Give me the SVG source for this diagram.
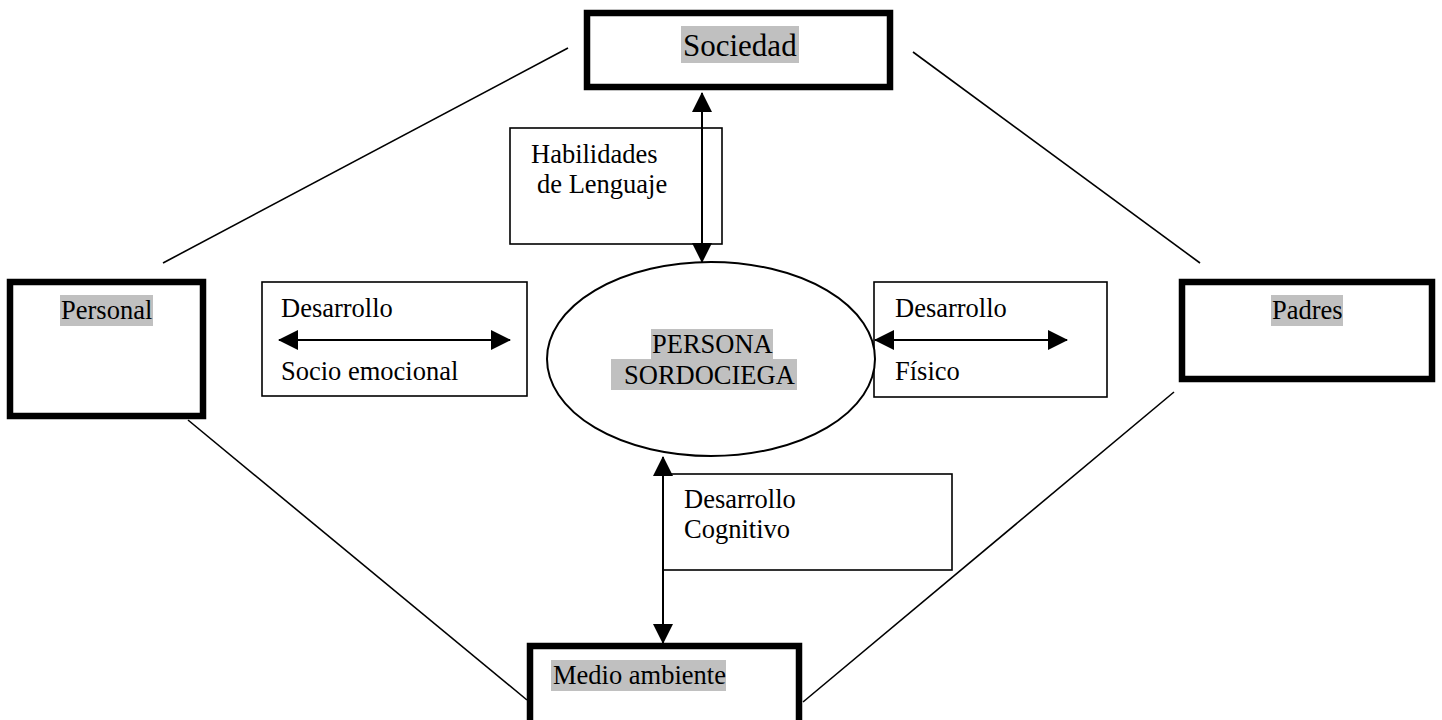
<svg xmlns="http://www.w3.org/2000/svg" width="1442" height="720" viewBox="0 0 1442 720" font-family="'Liberation Serif', 'Times New Roman', 'DejaVu Serif', serif">
<defs>
<style>
text{font-family:"Liberation Serif","Times New Roman","DejaVu Serif",serif}
.t{font-size:26.5px;fill:#000}
.big{font-size:31px}
.hl{fill:#c0c0c0}
.thick{fill:#fff;stroke:#000;stroke-width:6.5}
.thin{fill:#fff;stroke:#000;stroke-width:1.6}
.ln{stroke:#000;stroke-width:1.6;fill:none}
.ar{stroke:#000;stroke-width:2;fill:none;marker-start:url(#ah);marker-end:url(#ah)}
</style>
<marker id="ah" markerUnits="userSpaceOnUse" markerWidth="20" markerHeight="20" refX="19" refY="10" orient="auto-start-reverse" viewBox="0 0 20 20">
<path d="M0,0 L20,10 L0,20 z" fill="#000"/>
</marker>
</defs>
<rect width="1442" height="720" fill="#fff"/>

<g id="connectors">
<line class="ln" x1="163" y1="263" x2="568" y2="48"/>
<line class="ln" x1="913" y1="52" x2="1200" y2="263"/>
<line class="ln" x1="188" y1="420" x2="527" y2="700"/>
<line class="ln" x1="803" y1="702" x2="1174" y2="392"/>
</g>

<g id="node-habilidades">
<rect class="thin" x="510" y="128" width="212" height="116"/>
<text class="t" x="531" y="163">Habilidades</text>
<text class="t" x="537" y="193">de Lenguaje</text>
</g>

<g id="node-cognitivo">
<rect class="thin" x="663" y="474" width="289" height="96"/>
<text class="t" x="684" y="508">Desarrollo</text>
<text class="t" x="684" y="538">Cognitivo</text>
</g>

<g id="node-socioemocional">
<rect class="thin" x="262" y="282" width="265" height="114"/>
<text class="t" x="281" y="317">Desarrollo</text>
<text class="t" x="281" y="380">Socio emocional</text>
</g>

<g id="node-fisico">
<rect class="thin" x="874" y="282" width="233" height="115"/>
<text class="t" x="895" y="317">Desarrollo</text>
<text class="t" x="895" y="380">Físico</text>
</g>

<g id="node-persona">
<ellipse cx="711" cy="359" rx="164" ry="97" fill="#fff" stroke="#000" stroke-width="2"/>
<rect class="hl" x="651" y="329" width="122" height="30"/>
<rect class="hl" x="611" y="359" width="186" height="31"/>
<text class="t" x="652" y="353">PERSONA</text>
<text class="t" x="624" y="384">SORDOCIEGA</text>
</g>

<g id="node-sociedad">
<rect class="thick" x="587" y="13" width="303" height="74"/>
<rect class="hl" x="681" y="26" width="118" height="37"/>
<text class="t big" x="683" y="56">Sociedad</text>
</g>

<g id="node-personal">
<rect class="thick" x="10" y="282" width="193" height="134"/>
<rect class="hl" x="60" y="295" width="93" height="31"/>
<text class="t" x="61" y="319">Personal</text>
</g>

<g id="node-padres">
<rect class="thick" x="1182" y="282" width="250" height="97"/>
<rect class="hl" x="1271" y="295" width="72" height="31"/>
<text class="t" x="1272" y="319">Padres</text>
</g>

<g id="node-medio">
<rect class="thick" x="530" y="646" width="269" height="90"/>
<rect class="hl" x="551" y="660" width="175" height="31"/>
<text class="t" x="553" y="684">Medio ambiente</text>
</g>

<g id="arrows">
<line class="ar" x1="702" y1="93" x2="702" y2="262"/>
<line class="ar" x1="663" y1="457" x2="663" y2="643"/>
<line class="ar" x1="279" y1="340" x2="510" y2="340"/>
<line class="ar" x1="875" y1="340" x2="1067" y2="340"/>
</g>
</svg>
